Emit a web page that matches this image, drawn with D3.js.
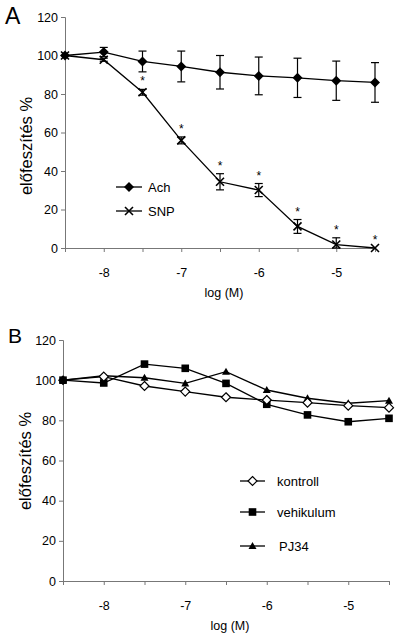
<!DOCTYPE html>
<html><head><meta charset="utf-8">
<script src="https://cdn.jsdelivr.net/npm/d3@7"></script>
<style>
html,body{margin:0;padding:0;background:#fff;}
text{font-family:"Liberation Sans",Arial,sans-serif;fill:#000;}
</style></head>
<body>
<svg id="c" width="398" height="635"></svg>
<script>
// ---- data ----
const logM = [-8.5, -8, -7.5, -7, -6.5, -6, -5.5, -5, -4.5];
const xTickLabels = [-8, -7, -6, -5];
const yTickLabels = [0, 20, 40, 60, 80, 100, 120];

// Panel A
const achMean = [100, 101.8, 96.9, 94.3, 91.3, 89.4, 88.4, 86.9, 86.0];
const achErr  = [0, 2.4, 5.4, 8.0, 8.7, 9.8, 10.2, 10.2, 10.3];
const snpMean = [100, 97.8, 80.9, 55.9, 34.4, 30.1, 11.2, 1.8, 0];
const snpErr  = [0, 0.8, 1.5, 1.8, 4.2, 3.4, 3.6, 3.5, 0];
const snpStar = [false, false, true, true, true, true, true, true, true];

// Panel B
const kontroll  = [100, 101.8, 97.1, 94.3, 91.5, 90.1, 88.8, 87.3, 86.3];
const vehikulum = [100, 98.6, 108.0, 105.9, 98.4, 88.0, 82.7, 79.3, 81.0];
const pj34      = [100, 102.2, 101.2, 98.4, 104.2, 95.1, 91.0, 88.5, 89.8];

const svg = d3.select("#c");
const AXIS = "#777";

function panel(o){
  const g = svg.append("g");
  const x = d3.scaleLinear().domain([-8.5, -4.5]).range([o.x0, o.x1]);
  const y = d3.scaleLinear().domain([0, 120]).range([o.y0, o.y1]);
  // y axis
  const ya = g.append("g").attr("transform", `translate(${o.x0},0)`)
    .call(d3.axisLeft(y).tickValues(yTickLabels).tickSize(4).tickPadding(3));
  ya.selectAll("text").attr("font-size", 12.5).attr("font-family","Liberation Sans, Arial, sans-serif");
  ya.select(".domain").attr("stroke", AXIS);
  ya.selectAll(".tick line").attr("stroke", AXIS);
  // x axis
  const xa = g.append("g").attr("transform", `translate(0,${o.y0})`)
    .call(d3.axisBottom(x).tickValues(logM).tickSize(4).tickSizeOuter(0)
      .tickFormat(d => xTickLabels.includes(d) ? String(d) : ""));
  xa.selectAll("text").attr("font-size", 12.5).attr("dy", "1.75em").attr("font-family","Liberation Sans, Arial, sans-serif");
  xa.select(".domain").attr("stroke", AXIS);
  xa.selectAll(".tick line").attr("stroke", AXIS);
  g.append("text").attr("x", (o.x0 + o.x1)/2 + 4).attr("y", o.y0 + 49)
    .attr("text-anchor", "middle").attr("font-size", 12.5).text("log (M)");
  g.append("text").attr("transform", `translate(${o.ylabX},${o.ylabY}) rotate(-90)`)
    .attr("text-anchor", "middle").attr("font-size", 16.5).text("előfeszítés %");
  g.append("text").attr("x", o.letterX).attr("y", o.letterY).attr("font-size", o.letterSize).text(o.letter);
  return {g, x, y};
}

function drawLine(g, x, y, vals){
  g.append("path").datum(vals)
    .attr("d", d3.line().x((d,i) => x(logM[i])).y(d => y(d)))
    .attr("fill", "none").attr("stroke", "#000").attr("stroke-width", 1.3);
}
function marker(g, type, cx, cy){
  if (type === "diamond") {
    g.append("path").attr("d", `M${cx},${cy-5}L${cx+5},${cy}L${cx},${cy+5}L${cx-5},${cy}Z`).attr("fill", "#000");
  } else if (type === "odiamond") {
    g.append("path").attr("d", `M${cx},${cy-4.5}L${cx+4.5},${cy}L${cx},${cy+4.5}L${cx-4.5},${cy}Z`).attr("fill", "#fff").attr("stroke","#000").attr("stroke-width",1.2);
  } else if (type === "square") {
    g.append("rect").attr("x", cx-3.8).attr("y", cy-3.8).attr("width", 7.6).attr("height", 7.6).attr("fill", "#000");
  } else if (type === "triangle") {
    g.append("path").attr("d", `M${cx},${cy-4}L${cx+4},${cy+3}L${cx-4},${cy+3}Z`).attr("fill", "#000");
  } else if (type === "x") {
    g.append("path").attr("d", `M${cx-4},${cy-4}L${cx+4},${cy+4}M${cx+4},${cy-4}L${cx-4},${cy+4}`).attr("stroke", "#000").attr("stroke-width", 1.6);
  }
}
function errBars(g, x, y, mean, err){
  mean.forEach((m,i) => {
    if (!err[i]) return;
    const cx = x(logM[i]);
    const lo = Math.max(0, m - err[i]), hi = m + err[i];
    g.append("line").attr("x1",cx).attr("x2",cx).attr("y1",y(lo)).attr("y2",y(hi)).attr("stroke","#000").attr("stroke-width",1.2);
    [lo, hi].forEach(v => g.append("line").attr("x1",cx-4).attr("x2",cx+4).attr("y1",y(v)).attr("y2",y(v)).attr("stroke","#000").attr("stroke-width",1.2));
  });
}

// ---- Panel A ----
const A = panel({x0:65, x1:375, y0:248, y1:17, ylabX:32, ylabY:146, letter:"A", letterX:5, letterY:24, letterSize:23});
errBars(A.g, A.x, A.y, achMean, achErr);
errBars(A.g, A.x, A.y, snpMean, snpErr);
drawLine(A.g, A.x, A.y, achMean);
drawLine(A.g, A.x, A.y, snpMean);
achMean.forEach((v,i) => marker(A.g, "diamond", A.x(logM[i]), A.y(v)));
snpMean.forEach((v,i) => marker(A.g, "x", A.x(logM[i]), A.y(v)));
snpMean.forEach((v,i) => {
  if (!snpStar[i]) return;
  A.g.append("text").attr("x", A.x(logM[i])).attr("y", A.y(v + snpErr[i]) - 4)
    .attr("text-anchor","middle").attr("font-size", 12).text("*");
});
// legend A
[["Ach","diamond",187],["SNP","x",211]].forEach(([lab,t,ly]) => {
  A.g.append("line").attr("x1",116).attr("x2",142).attr("y1",ly).attr("y2",ly).attr("stroke","#000").attr("stroke-width",1.3);
  marker(A.g, t, 129, ly);
  A.g.append("text").attr("x",148).attr("y",ly+5).attr("font-size",13).text(lab);
});

// ---- Panel B ----
const B = panel({x0:63, x1:389, y0:581, y1:340, ylabX:31, ylabY:461, letter:"B", letterX:8, letterY:343, letterSize:21});
drawLine(B.g, B.x, B.y, kontroll);
drawLine(B.g, B.x, B.y, vehikulum);
drawLine(B.g, B.x, B.y, pj34);
vehikulum.forEach((v,i) => marker(B.g, "square", B.x(logM[i]), B.y(v)));
pj34.forEach((v,i) => marker(B.g, "triangle", B.x(logM[i]), B.y(v)));
kontroll.forEach((v,i) => marker(B.g, i === 0 ? "diamond" : "odiamond", B.x(logM[i]), B.y(v)));
[["kontroll","odiamond",481,277],["vehikulum","square",512,277],["PJ34","triangle",546,279]].forEach(([lab,t,ly,tx]) => {
  B.g.append("line").attr("x1",240).attr("x2",265).attr("y1",ly).attr("y2",ly).attr("stroke","#000").attr("stroke-width",1.3);
  marker(B.g, t, 252.5, ly);
  B.g.append("text").attr("x",tx).attr("y",ly+5).attr("font-size",13).text(lab);
});
</script>
</body></html>
